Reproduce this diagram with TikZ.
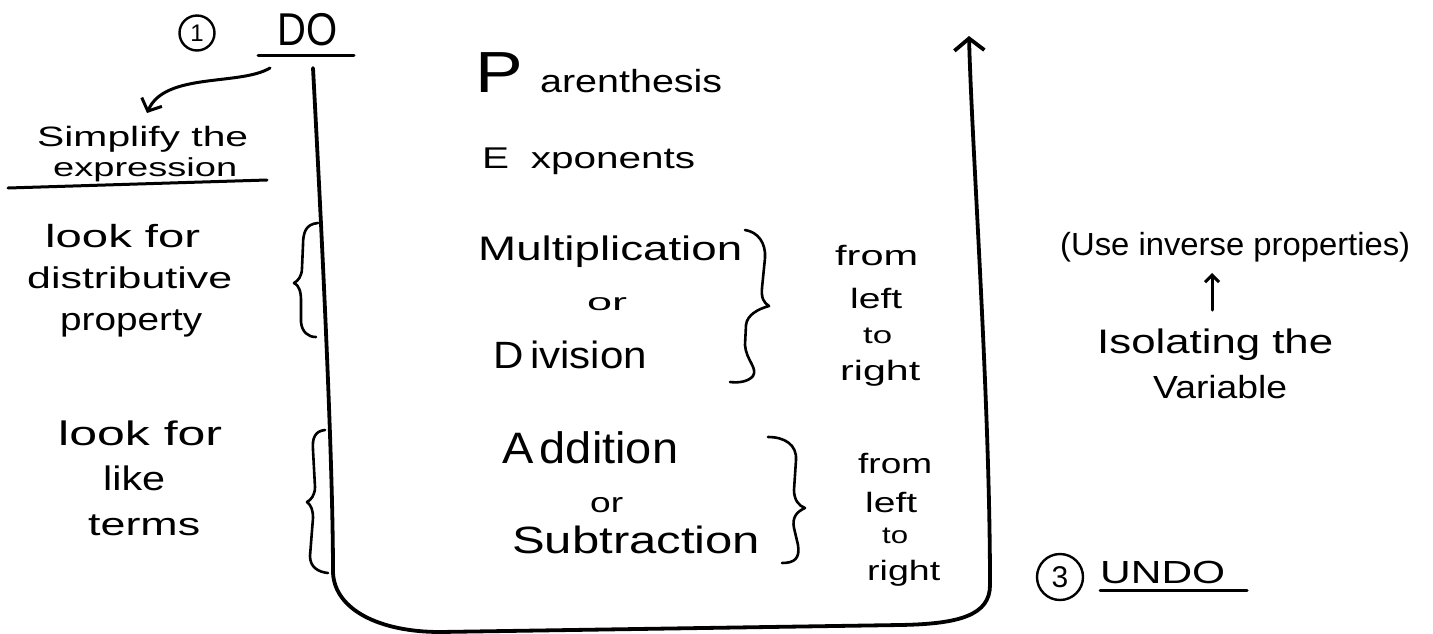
\documentclass[tikz,border=0pt]{standalone}
\usepackage{fontspec}
\setmainfont{Liberation Sans}
\usetikzlibrary{arrows.meta}
\newcommand\hw[3]{\resizebox{#1pt}{\height}{\fontsize{#2}{#2}\selectfont #3}}
\newcommand\bigletter[2]{{\fontsize{#1}{#1}\selectfont #2}}
\begin{document}
\begin{tikzpicture}[x=1pt,y=-1pt,
  txt/.style={inner sep=0pt, anchor=base west},
  pen/.style={line width=3pt, line cap=round, line join=round},
  bar/.style={line width=3.8pt, line cap=round, line join=round},
  bracestroke/.style={line width=2.6pt, line cap=round, line join=round},
  num/.style={circle, draw, line width=2.4pt, inner sep=0pt},
  barb/.style={-{Straight Barb[length=10pt,width=22pt]}}]
\useasboundingbox (0,0) rectangle (1433,633);

% step 1 heading
\node[num, minimum size=35pt] (c1) at (197,33) {\fontsize{24}{24}\selectfont 1};
\node[txt] (do) at (277,45) {\hw{60}{46}{DO}};
\coordinate (doL) at (258,55);
\coordinate (doR) at (354,55);
\draw[pen] (doL) -- (doR);

% left column
\node[txt] (simp) at (37,146) {\hw{211}{28}{Simplify the}};
\node[txt] (expr) at (53,176) {\hw{184}{26}{expression}};
\coordinate (exL) at (8,188);
\coordinate (exR) at (267,180);
\draw[pen] (exL) -- (exR);
\coordinate (arS) at (270,68);
\coordinate (arE) at (147,113);
\draw[pen, barb] (arS) .. controls (240,86) and (165,72) .. (arE);

\node[txt] (lf1) at (45,247) {\hw{155}{32}{look for}};
\node[txt] (dist) at (27,288) {\hw{205}{30}{distributive}};
\node[txt] (prop) at (60,330) {\hw{142}{32}{property}};

\node[txt] (lf2) at (58,445) {\hw{164}{34}{look for}};
\node[txt] (like) at (103,490) {\hw{62}{34}{like}};
\node[txt] (terms) at (88,535) {\hw{112}{32}{terms}};

% braces on the left
\draw[bracestroke] (318,223) .. controls (306,224) and (303,232) .. (303,245) -- (302,268) .. controls (302,276) and (298,281) .. (294,283) .. controls (299,285) and (301,292) .. (301,300) -- (301,322) .. controls (302,332) and (308,337) .. (316,337);
\draw[bracestroke] (325,430) .. controls (315,431) and (312,438) .. (313,450) -- (315,487) .. controls (315,495) and (311,500) .. (307,502) .. controls (311,505) and (313,510) .. (313,518) -- (310,556) .. controls (310,567) and (318,572) .. (328,573);

% the U frame with up arrow
\draw[bar, -{Straight Barb[length=12pt,width=30pt]}] (313,68) .. controls (320,200) and (333,450) .. (333,573) .. controls (335,610) and (380,632) .. (440,632) -- (900,625) .. controls (960,624) and (990,615) .. (990,585) .. controls (990,400) and (972,150) .. (969,36);

% PEMDAS
\node[txt] (par) at (475,92) {\hw{247}{32}{\bigletter{58}{P}\hspace{14pt}arenthesis}};
\node[txt] (exp) at (482,168) {\hw{213}{30}{E\hspace{16pt}xponents}};
\node[txt] (mul) at (478,260) {\hw{264}{34}{Multiplication}};
\node[txt] (or1) at (587,310) {\hw{40}{24}{or}};
\node[txt] (div) at (493,368) {\hw{154}{38}{D\hspace{6pt}ivision}};
\node[txt] (add) at (502,463) {\hw{176}{44}{A\hspace{6pt}ddition}};
\node[txt] (or2) at (590,512) {\hw{33}{28}{or}};
\node[txt] (sub) at (512,553) {\hw{248}{38}{Subtraction}};

% right braces
\draw[bracestroke] (745,230) .. controls (758,232) and (766,243) .. (765,258) -- (762,288) .. controls (761,298) and (764,303) .. (769,306) .. controls (758,309) and (747,315) .. (746,325) -- (745,345) .. controls (746,360) and (758,368) .. (753,376) .. controls (748,382) and (738,383) .. (730,382);
\draw[bracestroke] (768,437) .. controls (785,437) and (797,445) .. (796,460) -- (794,490) .. controls (794,500) and (799,506) .. (805,508) .. controls (796,512) and (792,518) .. (794,528) -- (798,545) .. controls (800,558) and (795,563) .. (782,563);

% from left to right
\node[txt] (fr1) at (835,265) {\hw{83}{28}{from}};
\node[txt] (le1) at (850,308) {\hw{52}{28}{left}};
\node[txt] (to1) at (863,343) {\hw{29}{24}{to}};
\node[txt] (ri1) at (840,380) {\hw{80}{28}{right}};
\node[txt] (fr2) at (858,473) {\hw{74}{28}{from}};
\node[txt] (le2) at (865,512) {\hw{52}{28}{left}};
\node[txt] (to2) at (882,543) {\hw{26}{24}{to}};
\node[txt] (ri2) at (867,580) {\hw{73}{28}{right}};

% right part
\node[txt] (use) at (1060,255) {\hw{350}{32}{(Use inverse properties)}};
\node[txt] (iso) at (1097,353) {\hw{236}{34}{Isolating the}};
\node[txt] (var) at (1153,398) {\hw{134}{32}{Variable}};
\coordinate (upS) at (1212,310);
\coordinate (upE) at (1212,273);
\draw[pen, -{Straight Barb[length=7pt,width=14pt]}] (upS) -- (upE);

\node[num, minimum size=46pt] (c3) at (1060,577) {\fontsize{30}{30}\selectfont 3};
\node[txt] (undo) at (1100,583) {\hw{125}{32}{UNDO}};
\coordinate (unL) at (1100,590);
\coordinate (unR) at (1247,590);
\draw[pen] (unL) -- (unR);
\end{tikzpicture}
\end{document}
